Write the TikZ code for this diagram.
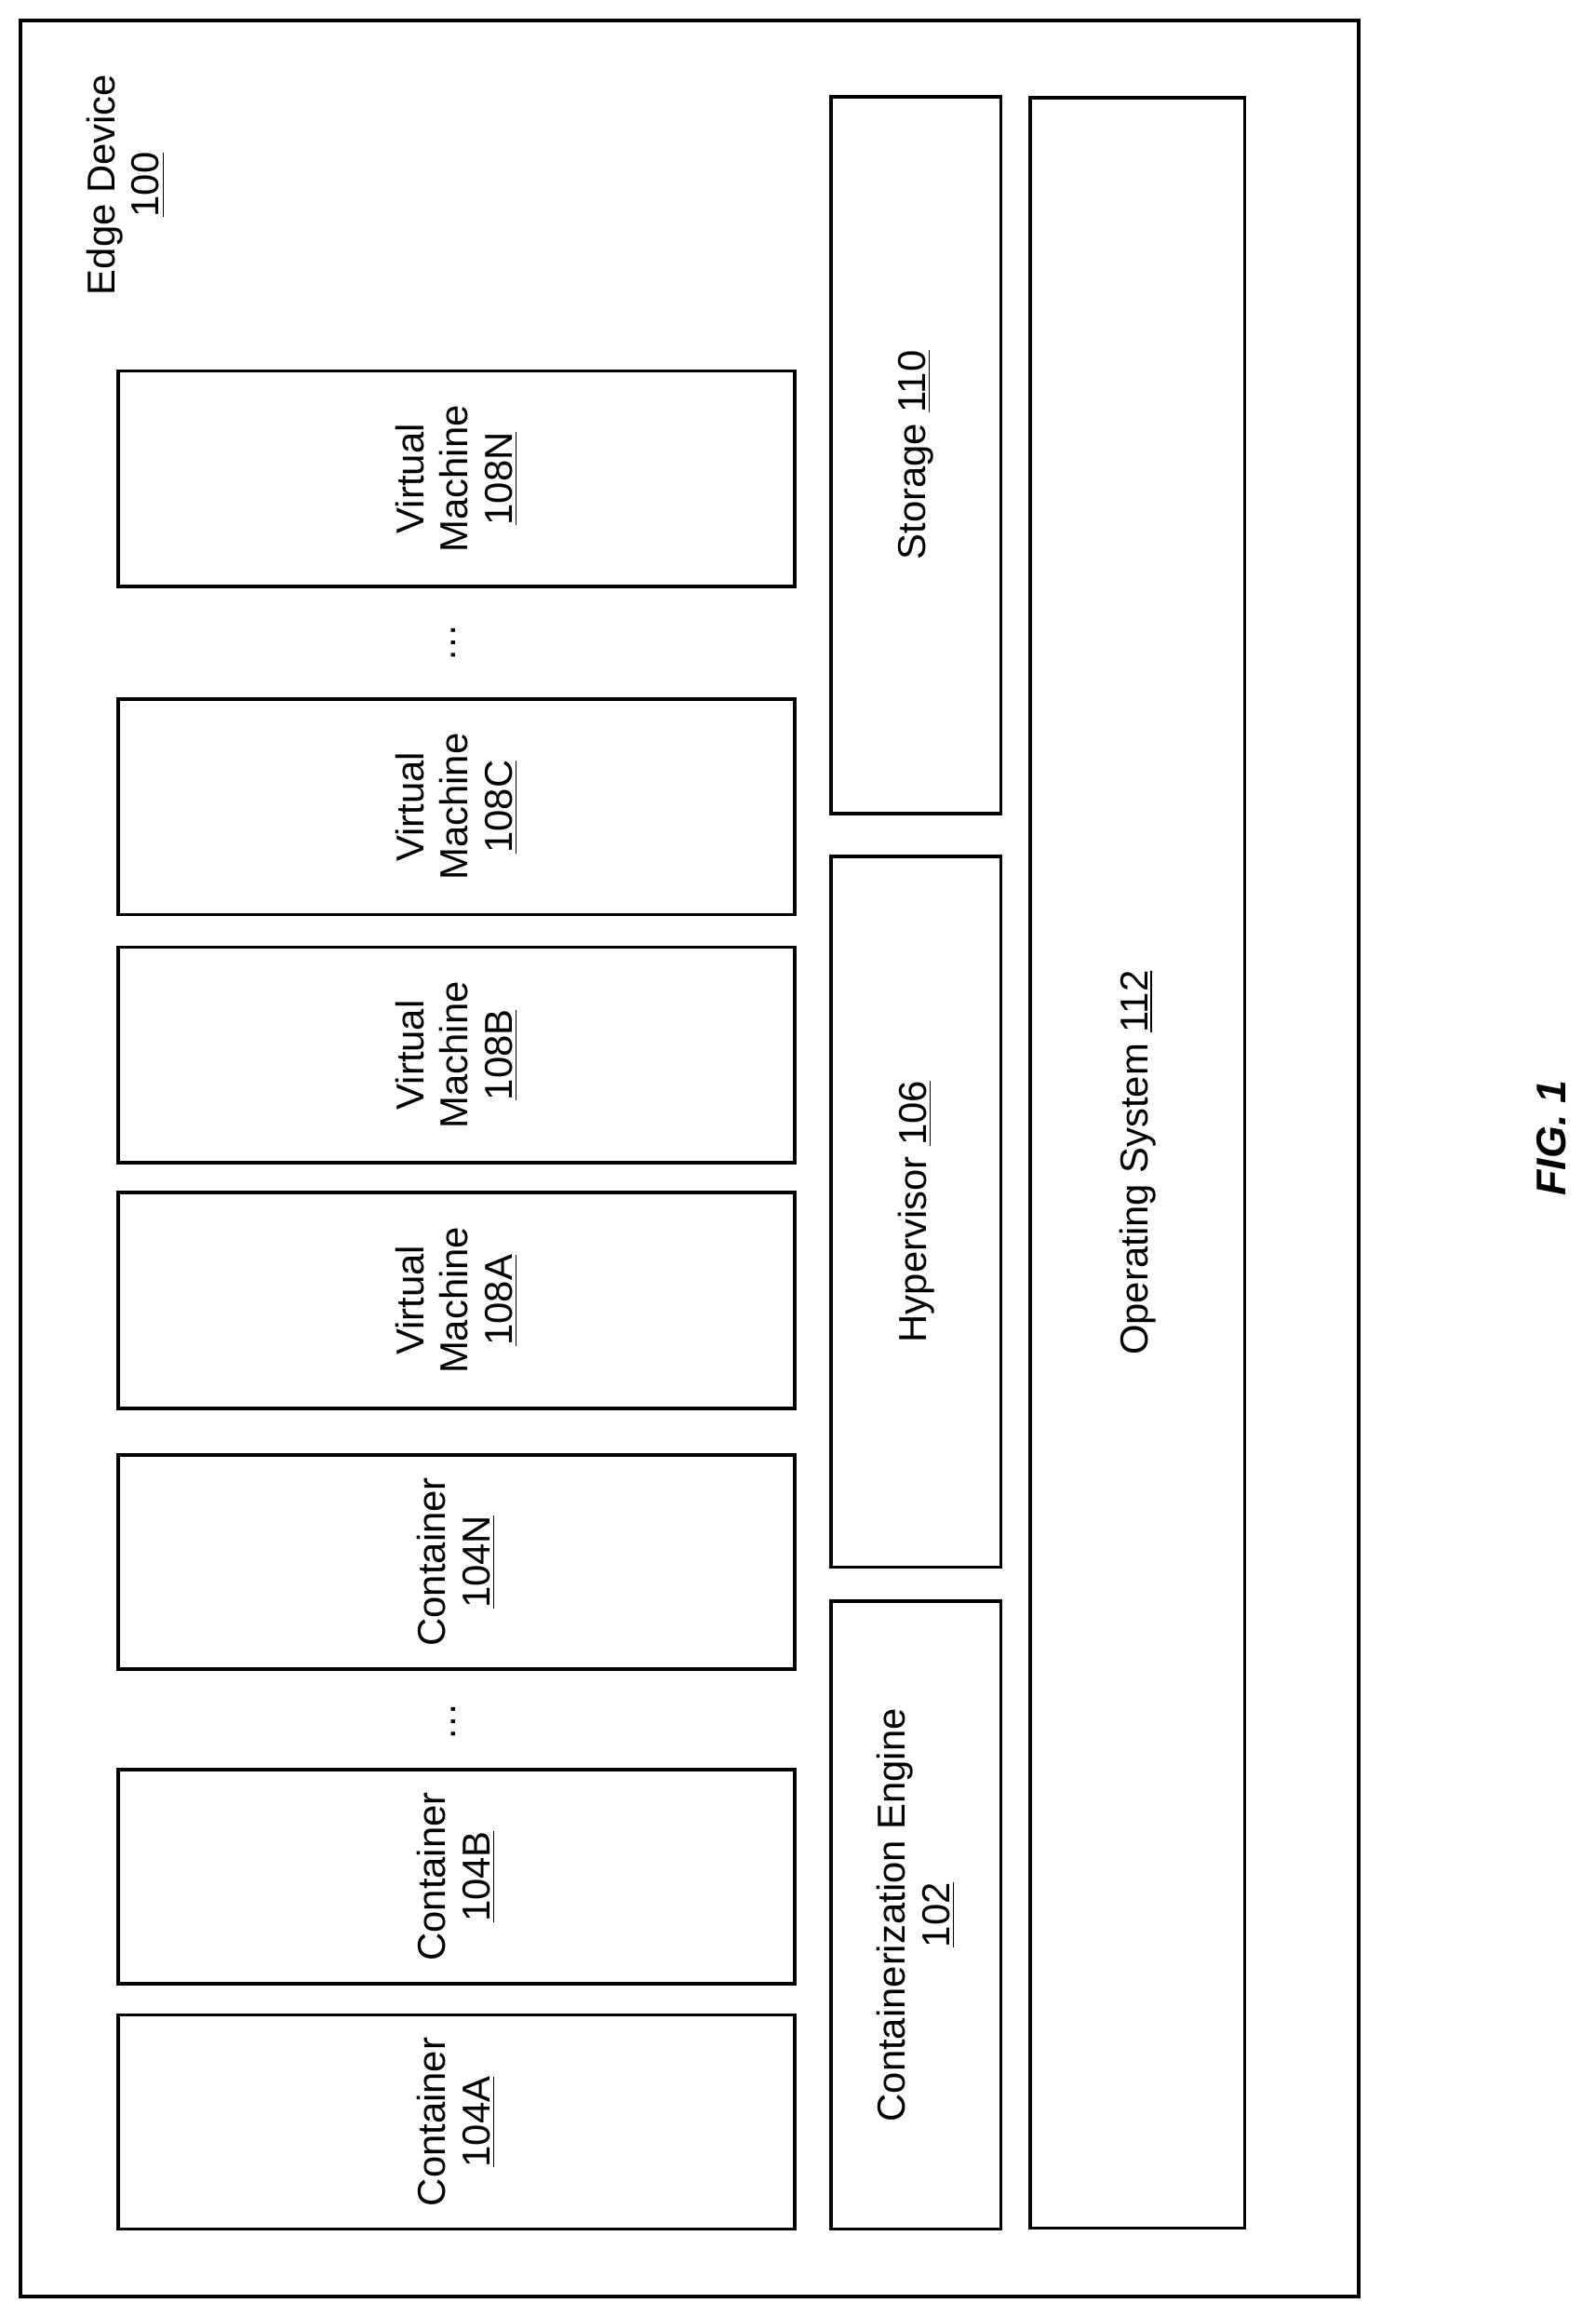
\documentclass[tikz,border=0pt]{standalone}
\usepackage{fontspec}
\setmainfont{Liberation Sans}
\begin{document}
\begin{tikzpicture}[x=0.02cm,y=-0.02cm,
  box/.style={draw, line width=1.3pt, rotate=90, align=center, inner sep=0pt, font=\fontsize{15}{17}\selectfont},
  lbl/.style={rotate=90, align=center, font=\fontsize{15}{17}\selectfont}]
\useasboundingbox (0,0) rectangle (1080,1568);
\draw[line width=1.5pt] (14,14) rectangle (920,1554);
\node[lbl] (edge) at (85,125) {Edge Device\\\underline{100}};

% virtual machines
\node[box, minimum width=2.92cm, minimum height=9.16cm] (vmN) at (309,324) {Virtual\\Machine\\\underline{108N}};
\node[box, minimum width=2.92cm, minimum height=9.16cm] (vmC) at (309,546) {Virtual\\Machine\\\underline{108C}};
\node[box, minimum width=2.92cm, minimum height=9.16cm] (vmB) at (309,714) {Virtual\\Machine\\\underline{108B}};
\node[box, minimum width=2.92cm, minimum height=9.16cm] (vmA) at (309,880) {Virtual\\Machine\\\underline{108A}};
\node[lbl] (dotsvm) at (307,435) {\dots};

% containers
\node[box, minimum width=2.9cm, minimum height=9.16cm] (ctN) at (309,1057) {Container\\\underline{104N}};
\node[box, minimum width=2.9cm, minimum height=9.16cm] (ctB) at (309,1270) {Container\\\underline{104B}};
\node[box, minimum width=2.9cm, minimum height=9.16cm] (ctA) at (309,1436) {Container\\\underline{104A}};
\node[lbl] (dotsct) at (307,1165) {\dots};

% lower layers
\node[box, minimum width=9.7cm, minimum height=2.3cm] (stor) at (620,308) {Storage \underline{110}};
\node[box, minimum width=9.62cm, minimum height=2.3cm] (hyp) at (620,820) {Hypervisor \underline{106}};
\node[box, minimum width=8.5cm, minimum height=2.3cm] (ceng) at (620,1296) {Containerization Engine\\\underline{102}};
\node[box, minimum width=28.84cm, minimum height=2.9cm] (os) at (770,787) {Operating System \underline{112}};

\node[lbl, font=\fontsize{16}{18}\selectfont\bfseries\itshape] (fig) at (1050,770) {FIG. 1};
\end{tikzpicture}
\end{document}
